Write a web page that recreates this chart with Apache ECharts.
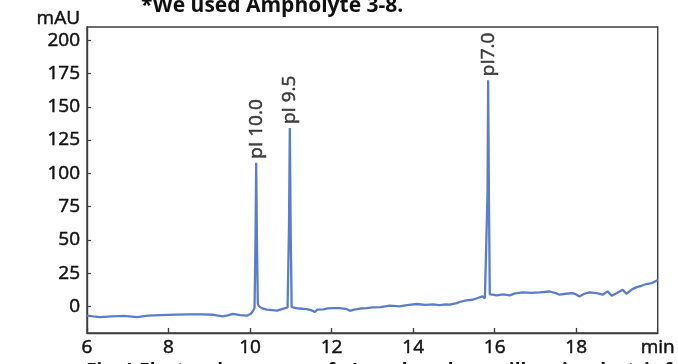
<!DOCTYPE html>
<html>
<head>
<meta charset="utf-8">
<script src="https://cdn.jsdelivr.net/npm/echarts@6/dist/echarts.min.js"></script>
<style>
  html, body { margin: 0; padding: 0; background: #fff; }
  #chart { width: 678px; height: 364px; }
</style>
</head>
<body>
<div id="chart"></div>
<script>
// Migration time (min) and detector response (mAU) of the electropherogram trace
const times = [
  6.00, 6.15, 6.32, 6.60, 6.90, 7.23, 7.50, 7.79, 8.20, 8.50, 8.84, 9.10, 9.33, 9.45, 9.58, 9.75, 9.92,
  10.02, 10.08, 10.11, 10.135, 10.15, 10.17, 10.19, 10.22, 10.30, 10.41, 10.55, 10.66, 10.80, 10.92,
  10.955, 10.975, 10.995, 11.02, 11.05, 11.20, 11.39, 11.50, 11.59, 11.65, 11.80, 11.90, 12.03, 12.20,
  12.35, 12.45, 12.55, 12.70, 12.86, 13.00, 13.20, 13.43, 13.67, 13.85, 14.09, 14.30, 14.48, 14.65,
  14.80, 14.90, 15.07, 15.14, 15.30, 15.46, 15.60, 15.70, 15.76, 15.80, 15.825, 15.84, 15.86, 15.88,
  15.95, 16.05, 16.20, 16.37, 16.50, 16.69, 16.90, 17.10, 17.35, 17.50, 17.59, 17.75, 17.91, 18.00,
  18.08, 18.20, 18.33, 18.50, 18.65, 18.77, 18.87, 19.00, 19.14, 19.23, 19.38, 19.48, 19.60, 19.72,
  19.85, 19.97, 20.00
];
const mAU = [
  -7, -7.5, -8, -7.5, -7.2, -8, -7, -6.5, -6.2, -6, -6, -6.3, -7.5, -6.8, -5.7, -6.5, -7,
  -5.5, -3, -1, 55, 108, 45, 2, 0, -1.5, -2.5, -2.8, -3.2, -1.8, -0.8,
  60, 134, 60, -0.5, -1.3, -1.6, -2, -2.8, -4.2, -2.5, -2.2, -1.5, -1.3, -1.3,
  -1.8, -3.3, -2.4, -1.6, -1.3, -0.7, -0.5, 0.5, 0, 1, 1.8, 1.2, 1.5, 1.0,
  1.5, 1.3, 2.5, 3.3, 4.5, 5, 6.5, 7.5, 6, 6, 85, 170, 80, 9,
  8.8, 8.2, 9, 8.3, 9.8, 10.5, 10.2, 10.5, 11.2, 10, 8.8, 9.5, 10, 9,
  7.5, 9.5, 10.5, 10, 8.8, 11.3, 8, 10, 12.5, 9.5, 13, 14.5, 15.5, 16.8,
  17.5, 19.3, 19.5
];

// Marker peaks: migration times of the apexes and their pI names
const peakTimes = [10.15, 10.975, 15.84];
const peakNames = ['pI 10.0', 'pI 9.5', 'pI7.0'];

// Tick values
const yTicks = [0, 25, 50, 75, 100, 125, 150, 175, 200];
const xTicks = [8, 10, 12, 14, 16, 18];

const Y_MIN = -20;
const Y_MAX = 210;
const X_TICK_LEN = 3.8; // in mAU units, about 5 px

const FONT = '"Open Sans", "Noto Sans", sans-serif';
const INK = '#111111';
const FRAME = '#3c3c3c';
const TRACE = '#5a7ec9';

// Shared text look: slightly heavier strokes for the axis and peak labels
const textLook = {
  fontSize: 19, color: INK, fontFamily: FONT,
  textBorderColor: INK, textBorderWidth: 0.5
};

const traceData = times.map((t, i) => [t, mAU[i]]);
const peakData = peakTimes.map((t, k) => {
  const i = times.indexOf(t);
  return { value: [times[i], mAU[i]], name: peakNames[k] };
});
// Short inward tick marks standing on the bottom edge of the frame
const xTickMarks = xTicks.map(v => [{ coord: [v, Y_MIN] }, { coord: [v, Y_MIN + X_TICK_LEN] }]);

const chart = echarts.init(document.getElementById('chart'), null, { renderer: 'canvas' });
chart.setOption({
  animation: false,
  backgroundColor: '#fff',
  textStyle: { fontFamily: FONT },
  grid: {
    left: 87, right: 20, top: 27, bottom: 31,
    show: true, borderColor: FRAME, borderWidth: 1.4, backgroundColor: 'transparent'
  },
  xAxis: {
    type: 'value', min: 6, max: 20, interval: 2,
    axisLine: { show: true, onZero: false, lineStyle: { color: FRAME, width: 1.4 } },
    splitLine: { show: false },
    axisTick: { show: true, inside: true, length: 5, lineStyle: { color: FRAME, width: 1.2 } },
    axisLabel: Object.assign({
      show: true, margin: 5,
      showMinLabel: true, showMaxLabel: true,
      formatter: v => (v === 20 ? 'min' : String(v))
    }, textLook)
  },
  yAxis: {
    type: 'value', min: Y_MIN, max: Y_MAX,
    name: 'mAU', nameLocation: 'end', nameGap: 2,
    nameTextStyle: Object.assign({ align: 'right', verticalAlign: 'bottom', padding: [0, 7, -3, 0] }, textLook),
    axisLine: { show: true, onZero: false, lineStyle: { color: FRAME, width: 1.4 } },
    splitLine: { show: false },
    axisTick: { show: true, inside: true, length: 4, customValues: yTicks, lineStyle: { color: FRAME, width: 1.2 } },
    axisLabel: Object.assign({ show: true, margin: 7, customValues: yTicks }, textLook)
  },
  graphic: [
    {
      type: 'text', left: 141, top: -4, silent: true,
      style: { text: '*We used Ampholyte 3-8.', font: 'bold 21px ' + FONT, fill: INK }
    },
    {
      type: 'text', left: 86, top: 362, silent: true,
      style: { text: 'Fig. 1 Electropherogram of pI markers by capillary isoelectric focusing', font: 'bold 19px ' + FONT, fill: INK }
    }
  ],
  series: [
    {
      type: 'line',
      data: traceData,
      showSymbol: false,
      smooth: false,
      lineStyle: { color: TRACE, width: 2.3 },
      itemStyle: { color: TRACE },
      z: 3,
      markLine: {
        silent: true,
        symbol: ['none', 'none'],
        label: { show: false },
        lineStyle: { color: FRAME, width: 1.2, type: 'solid' },
        emphasis: { disabled: true },
        data: xTickMarks
      }
    },
    {
      type: 'scatter',
      data: peakData,
      symbolSize: 0,
      itemStyle: { color: TRACE },
      label: Object.assign({
        show: true,
        formatter: p => p.name,
        position: 'top',
        distance: 4,
        rotate: 90,
        align: 'left',
        verticalAlign: 'middle'
      }, textLook),
      z: 4
    }
  ]
});
</script>
</body>
</html>
